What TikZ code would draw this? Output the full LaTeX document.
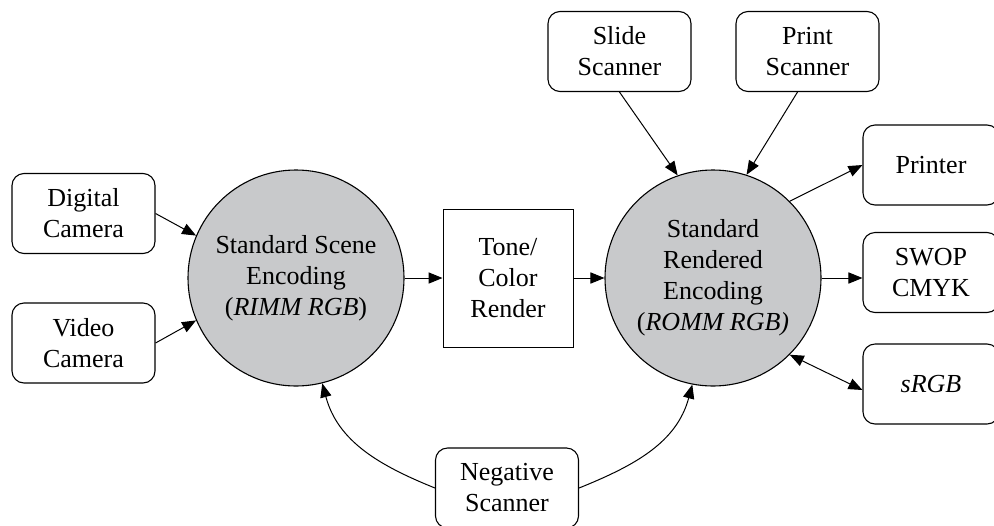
\documentclass[tikz,border=0pt]{standalone}
\usepackage{fontspec}
\setmainfont{Liberation Serif}
\usetikzlibrary{arrows.meta}
\definecolor{circfill}{RGB}{200,201,203}
\begin{document}
\begin{tikzpicture}[x=0.5pt,y=-0.5pt,
  every node/.style={font=\fontsize{13}{15.5}\selectfont, align=center, inner sep=0pt},
  rbox/.style={draw, line width=0.55pt, rounded corners=6pt, minimum width=71.5pt, minimum height=40pt},
  rboxr/.style={rbox, minimum width=68pt},
  sq/.style={draw, line width=0.5pt, minimum width=65pt, minimum height=69pt},
  circ/.style={draw, line width=0.55pt, circle, fill=circfill, minimum size=108pt},
  conn/.style={line width=0.5pt, -{Triangle[length=7pt,width=5.6pt]}},
  dconn/.style={line width=0.5pt, {Triangle[length=7pt,width=5.6pt]}-{Triangle[length=7pt,width=5.6pt]}}]
\useasboundingbox (0,0) rectangle (994,525);
\clip (0,0) rectangle (994,525);
\node[rbox] (dc) at (83.5,213.5) {Digital\\Camera};
\node[rbox] (vc) at (83.5,343) {Video\\Camera};
\node[circ] (L) at (296,278) {Standard Scene\\Encoding\\(\textit{RIMM RGB})};
\node[sq] (tc) at (508,278) {Tone/\\Color\\Render};
\node[circ] (R) at (713,278) {Standard\\Rendered\\Encoding\\(\textit{ROMM RGB)}};
\node[rbox] (ss) at (619.5,51.5) {Slide\\Scanner};
\node[rbox] (ps) at (807.5,51.5) {Print\\Scanner};
\node[rboxr] (pr) at (931,165) {Printer};
\node[rboxr] (sw) at (931,272.5) {SWOP\\CMYK};
\node[rboxr] (sr) at (931,384) {\textit{sRGB}};
\node[rbox] (ns) at (507,488) {Negative\\Scanner};
\draw[conn] (dc.east) -- (L.157);
\draw[conn] (vc.east) -- (L.203);
\draw[conn] (L.east) -- (L.east -| tc.west);
\draw[conn] (tc.east) -- (tc.east -| R.west);
\draw[conn] (ss.south) -- (R.109);
\draw[conn] ([xshift=-5pt]ps.south) -- (R.72);
\draw[conn] (R.45) -- (pr.west);
\draw[conn] (R.east) -- (R.east -| sw.west);
\draw[dconn] (R.-45) -- ([yshift=-3pt]sr.west);
\draw[conn] (ns.west) to[out=158,in=-75] (L.284);
\draw[conn] (ns.east) to[out=22,in=-105] (R.259);
\end{tikzpicture}
\end{document}
